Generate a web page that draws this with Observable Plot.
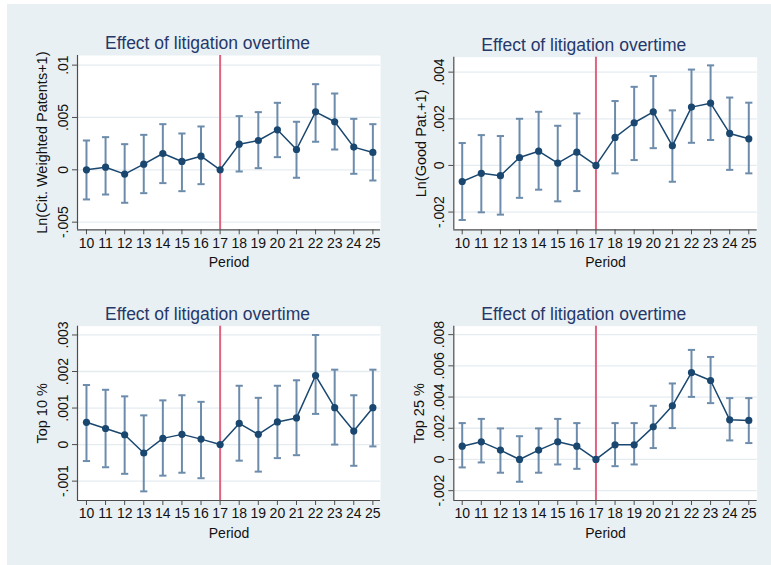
<!DOCTYPE html>
<html>
<head>
<meta charset="utf-8">
<script src="https://cdn.jsdelivr.net/npm/d3@7"></script>
<script src="https://cdn.jsdelivr.net/npm/@observablehq/plot@0.6"></script>
<style>
  body { margin: 0; background: #fff; }
  #root { position: relative; width: 771px; height: 565px; background: #fff; overflow: hidden; font-family: "Liberation Sans", Arial, Helvetica, sans-serif; }
  #bg { position: absolute; left: 7px; top: 4px; right: 0; bottom: 0; background: #e9f0f3; }
  .panel { position: absolute; }
</style>
</head>
<body>
<div id="root"><div id="bg"></div></div>
<script>
const periods = [10,11,12,13,14,15,16,17,18,19,20,21,22,23,24,25];
const title = "Effect of litigation overtime";
const xLabel = "Period";

// Panel 1: Ln(Cit. Weighted Patents+1)
const est1 = [0, 0.00025, -0.00041, 0.00054, 0.00156, 0.0008, 0.0013, 0, 0.00245, 0.0028, 0.00382, 0.00194, 0.00554, 0.00459, 0.00217, 0.00166];
const lo1  = [-0.00283, -0.00236, -0.00315, -0.00223, -0.00127, -0.00204, -0.00137, null, -0.00016, 0.00016, 0.00121, -0.00076, 0.00268, 0.00194, -0.00038, -0.00102];
const hi1  = [0.0028, 0.00312, 0.00245, 0.00334, 0.00436, 0.00347, 0.00414, null, 0.00513, 0.00551, 0.0064, 0.00459, 0.00818, 0.00729, 0.00487, 0.00436];
const yTicks1 = [-0.005, 0, 0.005, 0.01];
const yTickLabels1 = ["-.005", "0", ".005", ".01"];
const yDomain1 = [-0.00573, 0.01092];

// Panel 2: Ln(Good Pat.+1)
const est2 = [-0.00069, -0.00034, -0.00044, 0.00034, 0.00061, 0.0001, 0.00057, 0, 0.0012, 0.00183, 0.0023, 0.00084, 0.0025, 0.00267, 0.00137, 0.00114];
const lo2  = [-0.00234, -0.00201, -0.00211, -0.00139, -0.00104, -0.00154, -0.0011, null, -0.00034, 0.00023, 0.00074, -0.0007, 0.00097, 0.00109, -0.00019, -0.00034];
const hi2  = [0.00096, 0.0013, 0.00126, 0.002, 0.0023, 0.0017, 0.00223, null, 0.00276, 0.00337, 0.00383, 0.00236, 0.00411, 0.00429, 0.00291, 0.00269];
const yTicks2 = [-0.002, 0, 0.002, 0.004];
const yTickLabels2 = ["-.002", "0", ".002", ".004"];
const yDomain2 = [-0.00276, 0.00464];

// Panel 3: Top 10 %
const est3 = [0.00061, 0.00044, 0.00027, -0.00023, 0.00017, 0.00028, 0.00015, 0, 0.00058, 0.00028, 0.00062, 0.00073, 0.00189, 0.00101, 0.00037, 0.00101];
const lo3  = [-0.00045, -0.00062, -0.0008, -0.00128, -0.00085, -0.00077, -0.00092, null, -0.00044, -0.00074, -0.00037, -0.00029, 0.00084, 0, -0.00058, -0.00005];
const hi3  = [0.00163, 0.0015, 0.00132, 0.0008, 0.00121, 0.00135, 0.00117, null, 0.00161, 0.00128, 0.00161, 0.00176, 0.003, 0.00205, 0.00135, 0.00205];
const yTicks3 = [-0.001, 0, 0.001, 0.002, 0.003];
const yTickLabels3 = ["-.001", "0", ".001", ".002", ".003"];
const yDomain3 = [-0.00153, 0.00324];

// Panel 4: Top 25 %
const est4 = [0.00085, 0.00113, 0.0006, 0, 0.0006, 0.00113, 0.00085, 0, 0.00094, 0.00094, 0.00209, 0.00344, 0.00557, 0.00506, 0.00254, 0.0025];
const lo4  = [-0.00051, -0.00019, -0.00085, -0.00143, -0.00085, -0.00032, -0.0006, null, -0.00043, -0.00032, 0.00073, 0.00201, 0.00401, 0.00361, 0.00122, 0.00105];
const hi4  = [0.00233, 0.0026, 0.00199, 0.00149, 0.00199, 0.0026, 0.00233, null, 0.00233, 0.00233, 0.00344, 0.00487, 0.00702, 0.00657, 0.00393, 0.00393];
const yTicks4 = [-0.002, 0, 0.002, 0.004, 0.006, 0.008];
const yTickLabels4 = ["-.002", "0", ".002", ".004", ".006", ".008"];
const yDomain4 = [-0.00263, 0.00854];

const eventPeriod = 17;

const NAVY = "#1a476f";
const CI = "#6d8cab";
const RED = "#e2637f";
const TITLE = "#25386a";
const FONT = "'Liberation Sans', Arial, Helvetica, sans-serif";

const capSymbol = {
  draw(ctx, size) {
    const r = Math.sqrt(size / Math.PI);
    ctx.moveTo(-r, 0);
    ctx.lineTo(r, 0);
  }
};

function panel({est, lo, hi, yTicks, yTickLabels, yDomain, yLabel, xDomain, box, margins, yLabelDx, titleDx}) {
  const data = periods.map((p, i) => ({period: p, est: est[i], lo: lo[i], hi: hi[i]}));
  const ci = data.filter(d => d.lo != null && d.hi != null);
  const chart = Plot.plot({
    width: box.w,
    height: box.h,
    marginLeft: margins.left,
    marginRight: margins.right,
    marginTop: margins.top,
    marginBottom: margins.bottom,
    style: {background: "transparent", fontFamily: FONT, overflow: "visible"},
    x: {domain: xDomain},
    y: {domain: yDomain},
    marks: [
      Plot.frame({fill: "white", stroke: null}),
      Plot.gridY(yTicks, {stroke: "#e4ecf0", strokeOpacity: 1, strokeWidth: 1.3}),
      Plot.ruleX([eventPeriod], {stroke: RED, strokeWidth: 2}),
      Plot.ruleX(ci, {x: "period", y1: "lo", y2: "hi", stroke: CI, strokeWidth: 2}),
      Plot.dot(ci, {x: "period", y: "lo", r: 3.6, symbol: capSymbol, stroke: CI, strokeWidth: 2, fill: "none"}),
      Plot.dot(ci, {x: "period", y: "hi", r: 3.6, symbol: capSymbol, stroke: CI, strokeWidth: 2, fill: "none"}),
      Plot.line(data, {x: "period", y: "est", stroke: NAVY, strokeWidth: 1.5}),
      Plot.dot(data, {x: "period", y: "est", r: 3.6, fill: NAVY, stroke: null}),
      Plot.ruleX([xDomain[0]], {stroke: "#4d4d4d", strokeWidth: 1.2}),
      Plot.ruleY([yDomain[0]], {stroke: "#4d4d4d", strokeWidth: 1.2}),
      Plot.axisY(yTicks, {
        tickRotate: -90, tickSize: 5, tickPadding: 5, fontSize: 14, fill: "#111",
        stroke: "#4d4d4d", textAnchor: "middle", lineAnchor: "bottom", label: null,
        tickFormat: d => yTickLabels[yTicks.indexOf(d)]
      }),
      Plot.axisX(periods, {
        tickSize: 5, tickPadding: 3, fontSize: 14, fill: "#111", stroke: "#4d4d4d", label: null,
        tickFormat: d => String(d)
      }),
      Plot.text([xLabel], {frameAnchor: "bottom", dy: 33, fontSize: 14, fill: "#111", lineAnchor: "middle"}),
      Plot.text([yLabel], {frameAnchor: "left", dx: yLabelDx, rotate: -90, fontSize: 14.5, fill: "#111", textAnchor: "middle", lineAnchor: "middle"}),
      Plot.text([title], {frameAnchor: "top", dy: -12, dx: titleDx, fontSize: 17.5, fill: TITLE, lineAnchor: "middle"})
    ]
  });
  const div = document.createElement("div");
  div.className = "panel";
  div.style.left = box.x + "px";
  div.style.top = box.y + "px";
  div.appendChild(chart);
  document.getElementById("root").appendChild(div);
}

const xDomainLeft = [9.53, 25.4];
const xDomainRight = [9.56, 25.44];

panel({est: est1, lo: lo1, hi: hi1, yTicks: yTicks1, yTickLabels: yTickLabels1, yDomain: yDomain1,
  yLabel: "Ln(Cit. Weighted Patents+1)", xDomain: xDomainLeft,
  box: {x: 0, y: 0, w: 385, h: 280}, margins: {left: 77, right: 5, top: 55, bottom: 50.7},
  yLabelDx: -35, titleDx: -21.5});
panel({est: est2, lo: lo2, hi: hi2, yTicks: yTicks2, yTickLabels: yTickLabels2, yDomain: yDomain2,
  yLabel: "Ln(Good Pat.+1)", xDomain: xDomainRight,
  box: {x: 385, y: 0, w: 386, h: 280}, margins: {left: 68.3, right: 14.3, top: 56.7, bottom: 50.7},
  yLabelDx: -32, titleDx: -21.7});
panel({est: est3, lo: lo3, hi: hi3, yTicks: yTicks3, yTickLabels: yTickLabels3, yDomain: yDomain3,
  yLabel: "Top 10 %", xDomain: xDomainLeft,
  box: {x: 0, y: 280, w: 385, h: 285}, margins: {left: 77, right: 5, top: 45.7, bottom: 65},
  yLabelDx: -35, titleDx: -21.5});
panel({est: est4, lo: lo4, hi: hi4, yTicks: yTicks4, yTickLabels: yTickLabels4, yDomain: yDomain4,
  yLabel: "Top 25 %", xDomain: xDomainRight,
  box: {x: 385, y: 280, w: 386, h: 285}, margins: {left: 68.3, right: 14.3, top: 45.7, bottom: 65},
  yLabelDx: -34, titleDx: -21.7});
</script>
</body>
</html>
